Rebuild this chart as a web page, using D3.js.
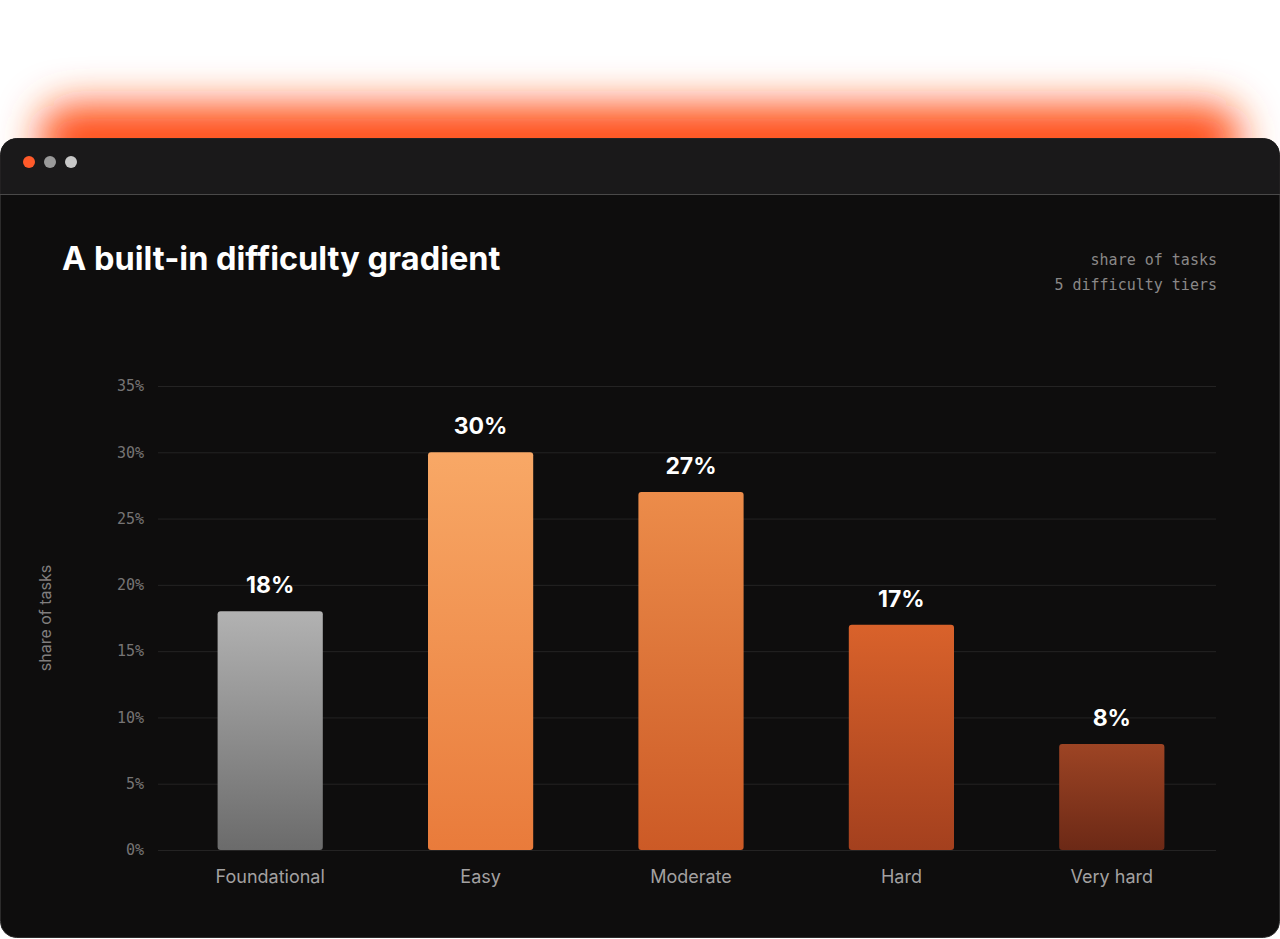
<!DOCTYPE html>
<html><head><meta charset="utf-8">
<script src="https://cdn.jsdelivr.net/npm/d3@7"></script>
<style>body{margin:0;background:#fff;overflow:hidden}</style>
</head><body>
<svg id="chart" width="1280" height="939"></svg>
<script>
// chart data
const tiers = ["Foundational", "Easy", "Moderate", "Hard", "Very hard"];
const shares = [18, 30, 27, 17, 8];
const yTicks = [0, 5, 10, 15, 20, 25, 30, 35];
const topColors = ["#b2b2b2", "#f8a866", "#ec8c4a", "#d9622b", "#9d4424"];
const bottomColors = ["#6b6b6b", "#e97b3b", "#cc5a26", "#a4401e", "#6c2916"];

const svg = d3.select("#chart");
const defs = svg.append("defs");

// orange glow behind the window
defs.append("filter").attr("id", "glow").attr("x", "-20%").attr("y", "-200%").attr("width", "140%").attr("height", "500%")
  .append("feGaussianBlur").attr("stdDeviation", 20);
svg.append("rect").attr("x", 40).attr("y", 105).attr("width", 1200).attr("height", 70)
  .attr("rx", 30).attr("fill", "#ff4d12").attr("filter", "url(#glow)");

// window frame
svg.append("rect").attr("x", 0.5).attr("y", 138.5).attr("width", 1279).attr("height", 799)
  .attr("rx", 16).attr("fill", "#0e0d0d").attr("stroke", "#2c2b2b");
svg.append("path").attr("d", "M0.5,194 V154.5 a16,16 0 0 1 16,-16 H1263.5 a16,16 0 0 1 16,16 V194 Z")
  .attr("fill", "#1a191a");
svg.append("line").attr("x1", 0).attr("x2", 1280).attr("y1", 194.5).attr("y2", 194.5).attr("stroke", "#4a4949");
svg.selectAll("circle.dot").data(["#ff5a2a", "#9a9a9a", "#c8c8c8"]).enter().append("circle")
  .attr("cx", (d, i) => 29 + i * 21).attr("cy", 162).attr("r", 6).attr("fill", d => d);

// header
svg.append("text").attr("x", 62).attr("y", 270).text("A built-in difficulty gradient")
  .attr("font-family", "Inter").attr("font-weight", 700).attr("font-size", 32.5).attr("fill", "#fff");
svg.selectAll("text.note").data(["share of tasks", "5 difficulty tiers"]).enter().append("text")
  .attr("x", 1217).attr("y", (d, i) => 265 + i * 25).attr("text-anchor", "end")
  .attr("font-family", "DejaVu Sans Mono").attr("font-size", 15).attr("fill", "#8a8888").text(d => d);

const x = d3.scaleBand().domain(tiers).range([165, 1217]).paddingInner(0.5).paddingOuter(0.25);
const y = d3.scaleLinear().domain([0, 35]).range([850, 386]);

// grid + y axis
const yAxis = svg.append("g").attr("transform", "translate(158,0)")
  .call(d3.axisLeft(y).tickValues(yTicks).tickFormat(d => d + "%").tickSize(-1058).tickPadding(14));
yAxis.select(".domain").remove();
yAxis.selectAll("line").attr("stroke", "#242323");
yAxis.selectAll("text").attr("font-family", "DejaVu Sans Mono").attr("font-size", 15).attr("fill", "#767474");

svg.append("text").attr("transform", "translate(51,618) rotate(-90)").attr("text-anchor", "middle")
  .attr("font-family", "Inter").attr("font-size", 16).attr("fill", "#807e7e").text("share of tasks");

// x axis
const xAxis = svg.append("g").attr("transform", "translate(0,850)")
  .call(d3.axisBottom(x).tickSize(0).tickPadding(20));
xAxis.select(".domain").remove();
xAxis.selectAll("text").attr("font-family", "Inter").attr("font-size", 18).attr("fill", "#a3a1a1");

// bar gradients
tiers.forEach((t, i) => {
  const g = defs.append("linearGradient").attr("id", "bar" + i).attr("x1", 0).attr("x2", 0).attr("y1", 0).attr("y2", 1);
  g.append("stop").attr("offset", "0%").attr("stop-color", topColors[i]);
  g.append("stop").attr("offset", "100%").attr("stop-color", bottomColors[i]);
});

svg.selectAll("rect.bar").data(shares).enter().append("rect")
  .attr("x", (d, i) => x(tiers[i])).attr("width", x.bandwidth())
  .attr("y", d => y(d)).attr("height", d => y(0) - y(d))
  .attr("rx", 3).attr("fill", (d, i) => "url(#bar" + i + ")");

svg.selectAll("text.val").data(shares).enter().append("text")
  .attr("x", (d, i) => x(tiers[i]) + x.bandwidth() / 2).attr("y", d => y(d) - 18)
  .attr("text-anchor", "middle").attr("font-family", "Inter").attr("font-weight", 700)
  .attr("font-size", 23).attr("fill", "#fff").text(d => d + "%");
</script>
</body></html>
